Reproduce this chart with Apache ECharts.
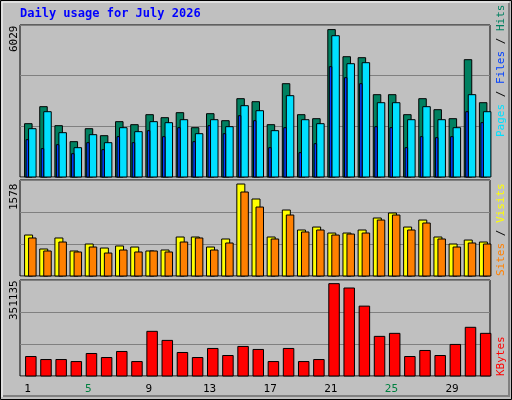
<!DOCTYPE html>
<html><head><meta charset="utf-8">
<script src="https://cdn.jsdelivr.net/npm/echarts@6/dist/echarts.min.js"></script>
<style>html,body{margin:0;padding:0;background:#C0C0C0}#c{width:512px;height:400px}</style>
</head><body><div id="c"></div>
<script>
const days = ['1','2','3','4','5','6','7','8','9','10','11','12','13','14','15','16','17','18','19','20','21','22','23','24','25','26','27','28','29','30','31'];
const weekend = ['4','5','11','12','18','19','25','26'];
const hits = [2181,2876,2099,1445,1976,1690,2263,2140,2549,2426,2631,2017,2590,2303,3203,3080,2140,3816,2549,2385,6029,4920,4880,3367,3367,2549,3203,2753,2385,4798,3039];
const files = [1976,2671,1813,1199,1731,1404,2017,1854,2263,2222,2344,1772,2344,2058,2917,2712,1895,3326,2344,2181,5779,4634,4675,3039,3039,2344,2876,2344,2017,3367,2671];
const pages = [1527,1159,1322,954,1404,1118,1649,1404,1895,1649,2017,1445,2099,1772,2508,2303,1199,2017,995,1363,4512,4062,3816,2058,2017,1199,1649,1608,1649,2671,2222];
const sites = [703,463,652,429,549,480,515,497,429,446,669,669,497,635,1578,1321,669,1132,789,840,737,737,789,995,1081,840,960,669,549,617,583];
const visits = [652,429,583,412,497,394,446,412,429,412,583,652,446,566,1441,1183,635,1046,755,789,703,720,737,960,1046,789,909,635,497,566,549];
const kbytes = [74066,62573,62573,54911,85559,70235,93221,54911,169841,135362,89390,70235,104714,77897,112376,100883,54911,104714,54911,62573,351135,334574,265616,150686,162179,74066,97052,77897,120038,185165,162179];
const maxLabels = ['6029','1578','351135'];

const chart = echarts.init(document.getElementById('c'));
const scales = [6217, 1647, 365000];
const grids = [{top:25,height:152},{top:180,height:96},{top:280,height:96}].map(g=>({left:20,right:22,top:g.top,height:g.height,show:true,borderColor:'#000',borderWidth:1,backgroundColor:'#C0C0C0'}));
function bar(name, data, gi, x0, x1, color){
  return {type:'custom',name,xAxisIndex:gi,yAxisIndex:gi,data:data.map((v,i)=>[i,v]),
    renderItem:(p,api)=>{const top=api.coord([api.value(0),api.value(1)]);const base=api.coord([api.value(0),0]);
      return {type:'rect',shape:{x:top[0]+x0,y:top[1],width:x1-x0,height:base[1]-top[1]},style:{fill:color,stroke:'#000',lineWidth:1}};}};
}
const xAxes=[0,1,2].map(i=>({type:'category',gridIndex:i,data:days,axisLine:{show:false},axisTick:{show:false},
  axisLabel:{show:i===2,margin:8,fontFamily:'DejaVu Sans Mono',fontSize:11,color:'#000',
   formatter:v=>weekend.includes(v)?'{w|'+v+'}':v,rich:{w:{color:'#008040',fontFamily:'DejaVu Sans Mono',fontSize:11}}}}));
const yAxes=scales.map((m,i)=>({type:'value',gridIndex:i,min:0,max:m,interval:m/3,axisLabel:{show:false},axisLine:{show:false},axisTick:{show:false},
  splitLine:{lineStyle:{color:'#808080',width:1}}}));
const txt=(x,y,rich,parts,rot)=>({type:'text',x,y,rotation:rot,style:{text:parts,rich,font:'11px DejaVu Sans Mono',fill:'#000'}});
chart.setOption({
  animation:false,backgroundColor:'#C0C0C0',
  grid:grids,xAxis:xAxes,yAxis:yAxes,
  series:[
    bar('Hits',hits,0,-3,4.5,'#008060'),
    bar('Files',files,0,1,8.5,'#00E0FF'),
    bar('Pages',pages,0,-1.5,1,'#0040FF'),
    bar('Sites',sites,1,-3,5,'#FFFF00'),
    bar('Visits',visits,1,1,8.5,'#FF8000'),
    bar('KBytes',kbytes,2,-2,8.5,'#FF0000')
  ],
  graphic:[
    {type:'rect',shape:{x:0.5,y:0.5,width:511,height:399},style:{fill:'none',stroke:'#000',lineWidth:1},z:100},
    {type:'polyline',shape:{points:[[2,397],[2,2],[509,2]]},style:{stroke:'#fff',lineWidth:1,fill:'none'}},
    {type:'polyline',shape:{points:[[3,396],[509,396],[509,3]]},style:{stroke:'#808080',lineWidth:2,fill:'none'}},
    {type:'text',x:20,y:8,style:{text:'Daily usage for July 2026',font:'bold 12px DejaVu Sans Mono',fill:'#0000FF'}},
    {type:'text',x:9,y:52,rotation:Math.PI/2,style:{text:maxLabels[0],font:'11px DejaVu Sans Mono',fill:'#000'}},
    {type:'text',x:9,y:210,rotation:Math.PI/2,style:{text:maxLabels[1],font:'11px DejaVu Sans Mono',fill:'#000'}},
    {type:'text',x:9,y:320,rotation:Math.PI/2,style:{text:maxLabels[2],font:'11px DejaVu Sans Mono',fill:'#000'}},
    {type:'text',x:496,y:137,rotation:Math.PI/2,style:{text:'{p|Pages}{s| / }{f|Files}{s| / }{h|Hits}',font:'11px DejaVu Sans Mono',
      rich:{p:{fill:'#00E0FF',font:'11px DejaVu Sans Mono'},s:{fill:'#000',font:'11px DejaVu Sans Mono'},f:{fill:'#0040FF',font:'11px DejaVu Sans Mono'},h:{fill:'#008060',font:'11px DejaVu Sans Mono'}}}},
    {type:'text',x:496,y:276,rotation:Math.PI/2,style:{text:'{a|Sites}{s| / }{b|Visits}',font:'11px DejaVu Sans Mono',
      rich:{a:{fill:'#FF8000',font:'11px DejaVu Sans Mono'},s:{fill:'#000',font:'11px DejaVu Sans Mono'},b:{fill:'#FFFF00',font:'11px DejaVu Sans Mono'}}}},
    {type:'text',x:496,y:376,rotation:Math.PI/2,style:{text:'KBytes',font:'11px DejaVu Sans Mono',fill:'#FF0000'}}
  ]
});
</script></body></html>
